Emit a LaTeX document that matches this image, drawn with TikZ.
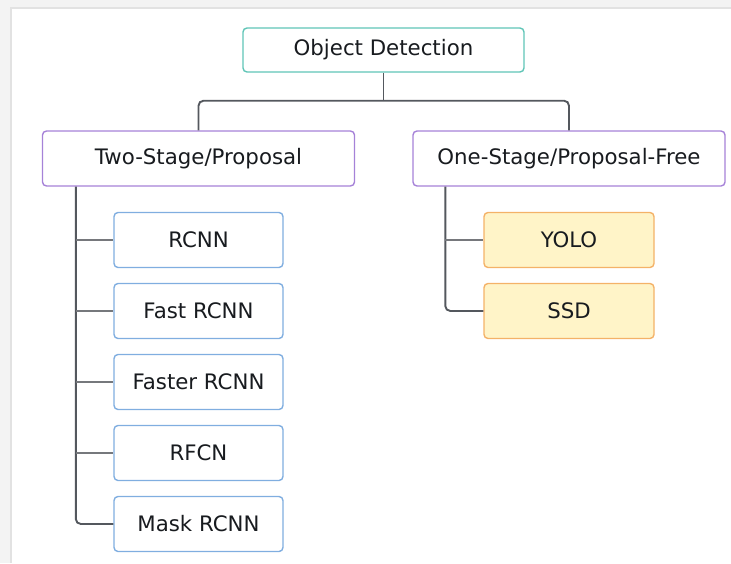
\documentclass[tikz,border=0pt]{standalone}
\usepackage{fontspec}
\setmainfont{DejaVu Sans}
\usetikzlibrary{positioning}
\definecolor{framegray}{RGB}{243,243,243}
\definecolor{frameline}{RGB}{226,226,226}
\definecolor{ink}{RGB}{24,27,31}
\definecolor{rootline}{RGB}{96,197,183}
\definecolor{groupline}{RGB}{166,130,216}
\definecolor{twoline}{RGB}{128,174,224}
\definecolor{oneline}{RGB}{244,178,104}
\definecolor{onefill}{RGB}{255,244,200}
\definecolor{linkgray}{RGB}{84,88,94}
\definecolor{branchgray}{RGB}{118,120,124}

\begin{document}
\begin{tikzpicture}[x=1pt,y=-1pt,
    box/.style={draw,rounded corners=4pt,line width=1.4pt,fill=white,text=ink,
      font=\fontsize{21.3}{25}\selectfont,inner sep=0pt},
    rootbox/.style={box,draw=rootline,minimum width=281pt,minimum height=44pt},
    groupbox/.style={box,draw=groupline,minimum width=312pt,minimum height=55pt},
    twobox/.style={box,draw=twoline,minimum width=169pt,minimum height=55pt},
    onebox/.style={box,draw=oneline,fill=onefill,minimum width=170pt,minimum height=55pt},
    link/.style={draw=linkgray,line width=1.9pt,rounded corners=5pt},
    branch/.style={draw=branchgray,line width=1.9pt}]
  \useasboundingbox (0,0) rectangle (731,563);
  \fill[framegray] (0,0) rectangle (731,8);
  \fill[framegray] (0,0) rectangle (11,563);
  \draw[frameline,line width=1.2pt] (731,8) -- (11,8) -- (11,563);

  \node[rootbox] (od) at (383.5,50) {Object Detection};
  \node[groupbox] (ts) at (198.5,158.5) {Two-Stage/Proposal};
  \node[groupbox] (os) at (569,158.5) {One-Stage/Proposal-Free};

  \node[twobox] (rcnn) at (198.5,240) {RCNN};
  \node[twobox,below=14.6pt of rcnn] (fast) {Fast RCNN};
  \node[twobox,below=14.6pt of fast] (faster) {Faster RCNN};
  \node[twobox,below=14.6pt of faster] (rfcn) {RFCN};
  \node[twobox,below=14.6pt of rfcn] (mask) {Mask RCNN};

  \node[onebox] (yolo) at (569,240) {YOLO};
  \node[onebox,below=14.6pt of yolo] (ssd) {SSD};

  \coordinate (split) at ([yshift=-28pt]od.south);
  \coordinate (tstrunk) at ([xshift=34pt]ts.south west);
  \coordinate (ostrunk) at ([xshift=33pt]os.south west);

  \draw[link]
    (od.south)
    --
    (split);
  \draw[link]
    (ts.north)
    |-
    (split)
    -|
    (os.north);

  \draw[link]
    (tstrunk)
    |-
    (mask.west);
  \draw[branch] (tstrunk |- rcnn.west) -- (rcnn.west);
  \draw[branch] (tstrunk |- fast.west) -- (fast.west);
  \draw[branch] (tstrunk |- faster.west) -- (faster.west);
  \draw[branch] (tstrunk |- rfcn.west) -- (rfcn.west);

  \draw[link]
    (ostrunk)
    |-
    (ssd.west);
  \draw[branch] (ostrunk |- yolo.west) -- (yolo.west);
\end{tikzpicture}
\end{document}
